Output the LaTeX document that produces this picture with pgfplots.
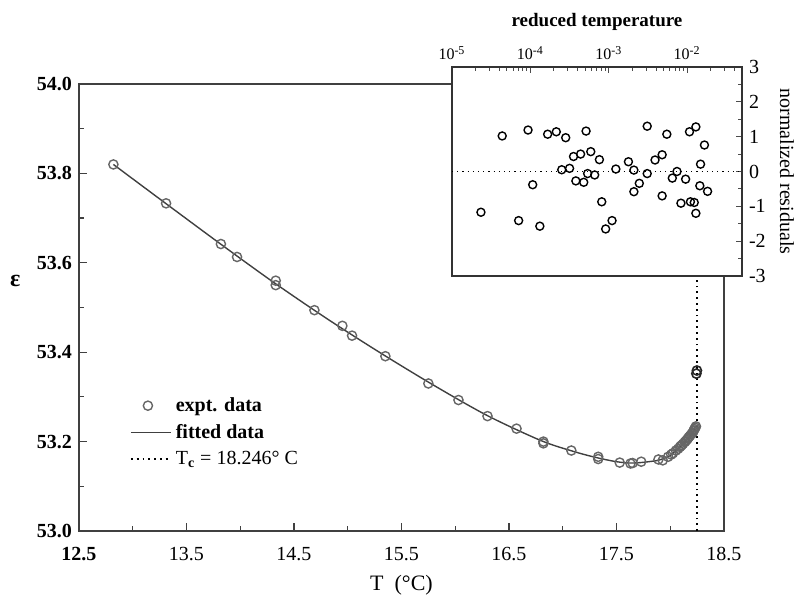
\documentclass[border=0pt]{standalone}
\usepackage{fontspec}
\setmainfont{Liberation Serif}
\usepackage{pgfplots}
\pgfplotsset{compat=1.18}
\pgfplotsset{circlegend/.style={legend image code/.code={\draw[##1] plot coordinates {(8.5pt,0pt)};}}}

% dielectric constant vs temperature, measured points
\pgfplotstableread{
T eps
12.82 53.820
13.31 53.733
13.82 53.642
13.97 53.613
14.33 53.560
14.33 53.550
14.69 53.494
14.95 53.459
15.04 53.437
15.35 53.391
15.75 53.330
16.03 53.293
16.30 53.257
16.57 53.229
16.82 53.200
16.82 53.196
17.08 53.180
17.33 53.166
17.33 53.161
17.53 53.153
17.63 53.151
17.65 53.152
17.73 53.155
17.89 53.160
17.93 53.158
17.98 53.166
18.009 53.171
18.025 53.174
18.053 53.180
18.074 53.184
18.090 53.188
18.097 53.190
18.107 53.192
18.119 53.195
18.135 53.199
18.143 53.201
18.154 53.204
18.164 53.207
18.173 53.210
18.184 53.213
18.198 53.217
18.208 53.220
18.215 53.223
18.219 53.225
18.225 53.228
18.233 53.231
18.239 53.234
}\exptdata

\pgfplotstableread{
T eps
18.243 53.352
18.248 53.359
}\outliers

\pgfplotstableread{
T eps
12.82 53.820
13.30 53.734
13.80 53.645
14.30 53.558
14.80 53.476
15.30 53.399
15.80 53.326
16.30 53.258
16.80 53.202
17.10 53.178
17.30 53.165
17.50 53.155
17.65 53.152
17.80 53.155
17.90 53.159
18.00 53.169
18.10 53.190
18.15 53.202
18.20 53.217
18.225 53.228
18.240 53.235
}\fitted

% normalized residuals vs reduced temperature
\pgfplotstableread{
t r
2.34e-5 -1.17
4.37e-5 1.02
7.08e-5 -1.41
9.33e-5 1.19
1.07e-4 -0.38
1.32e-4 -1.57
1.66e-4 1.07
2.14e-4 1.14
2.82e-4 0.97
2.51e-4 0.05
3.16e-4 0.09
3.55e-4 0.43
3.80e-4 -0.27
4.37e-4 0.50
4.79e-4 -0.31
5.13e-4 1.16
5.37e-4 -0.06
5.89e-4 0.57
6.61e-4 -0.10
7.59e-4 0.34
8.13e-4 -0.87
9.12e-4 -1.65
1.10e-3 -1.41
1.23e-3 0.07
1.78e-3 0.28
2.09e-3 0.04
2.09e-3 -0.58
2.45e-3 -0.34
3.09e-3 1.30
3.09e-3 -0.06
3.89e-3 0.33
4.79e-3 -0.70
4.79e-3 0.48
5.50e-3 1.07
6.46e-3 -0.19
7.41e-3 0.00
8.32e-3 -0.91
9.55e-3 -0.22
1.07e-2 1.14
1.10e-2 -0.87
1.23e-2 -0.89
1.29e-2 1.28
1.29e-2 -1.20
1.45e-2 -0.41
1.48e-2 0.21
1.66e-2 0.76
1.82e-2 -0.57
}\residuals

\begin{document}
\begin{tikzpicture}[x=1pt,y=1pt]
\useasboundingbox (-39.5,-33) rectangle (359,265.5);

\begin{axis}[
  at={(0pt,0pt)}, anchor=south west,
  width=322.5pt, height=223.5pt, scale only axis,
  xmin=12.5, xmax=18.5, ymin=53.0, ymax=54.0,
  xtick={13.5,14.5,15.5,16.5,17.5,18.5},
  minor xtick={13,14,15,16,17,18},
  extra x ticks={12.5},
  extra x tick style={major tick length=0pt, xticklabel style={font=\fontsize{10}{12}\selectfont\bfseries}},
  ytick={53,53.2,53.4,53.6,53.8,54},
  minor ytick={53.1,53.3,53.5,53.7,53.9},
  xtick pos=lower, ytick pos=left,
  tick align=inside,
  major tick length=4pt, minor tick length=2.5pt,
  axis line style={black!75, line width=0.8pt},
  every tick/.style={black!75, line width=0.6pt},
  /pgf/number format/assume math mode=true,
  /pgf/number format/fixed,
  /pgf/number format/fixed zerofill,
  /pgf/number format/precision=1,
  xticklabel style={font=\fontsize{10}{12}\selectfont, yshift=-4.5pt},
  yticklabel style={font=\fontsize{10}{12}\selectfont\bfseries},
  xlabel={T\ \ (°C)},
  xlabel style={at={(axis description cs:0.5,-0.121)}, anchor=center, font=\fontsize{11}{13}\selectfont},
  ylabel={\textbf{ε}},
  ylabel style={at={(axis description cs:-0.099,0.56)}, anchor=center, rotate=-90, font=\fontsize{12}{14}\selectfont},
  legend style={at={(axis cs:12.915,53.318)}, anchor=north west, draw=none, fill=none,
    font=\fontsize{10}{12}\selectfont, row sep=1pt},
  legend cell align=left,
  legend image code/.code={\draw[mark repeat=2,mark phase=2,#1] plot coordinates {(0pt,0pt)(10pt,0pt)(20pt,0pt)};},
]
\addplot[only marks, mark=o, mark size=2.3pt, mark options={black!60, line width=0.7pt}, circlegend] table {\exptdata};
\addlegendentry{\textbf{expt. data}}
\addplot[black!75, line width=0.7pt, smooth] table {\fitted};
\addlegendentry{\textbf{fitted data}}
\addplot[black, dotted, line width=0.9pt] coordinates {(18.246,53.0) (18.246,54.0)};
\addlegendentry{T\textsubscript{\bfseries c} = 18.246° C}
\addplot[only marks, mark=o, mark size=2.3pt, mark options={black!85, line width=0.8pt}, forget plot] table {\outliers};
\end{axis}

\begin{axis}[
  at={(186.5pt,127.5pt)}, anchor=south west,
  width=145pt, height=104.5pt, scale only axis,
  axis background/.style={fill=white},
  xmode=log, xmin=1e-5, xmax=5e-2, ymin=-3, ymax=3,
  xtick={1e-5,1e-4,1e-3,1e-2},
  xticklabels={10\textsuperscript{-5},10\textsuperscript{-4},10\textsuperscript{-3},10\textsuperscript{-2}},
  minor xtick={2e-5,3e-5,4e-5,5e-5,6e-5,7e-5,8e-5,9e-5,
    2e-4,3e-4,4e-4,5e-4,6e-4,7e-4,8e-4,9e-4,
    2e-3,3e-3,4e-3,5e-3,6e-3,7e-3,8e-3,9e-3,
    2e-2,3e-2,4e-2},
  ytick={-3,-2,-1,0,1,2,3},
  minor ytick={-2.5,-1.5,-0.5,0.5,1.5,2.5},
  xtick pos=upper, ytick pos=right,
  xticklabel pos=upper, yticklabel pos=right,
  tick align=inside,
  major tick length=3pt, minor tick length=2pt,
  axis line style={black!80, line width=0.7pt},
  every tick/.style={black!70, line width=0.5pt},
  /pgf/number format/assume math mode=true,
  xticklabel style={font=\fontsize{8}{10}\selectfont},
  yticklabel style={font=\fontsize{10}{12}\selectfont},
  xlabel={\textbf{reduced temperature}},
  xlabel style={at={(axis description cs:0.5,1.215)}, anchor=center, font=\fontsize{9.5}{11}\selectfont},
  ylabel={normalized residuals},
  ylabel style={at={(axis description cs:1.155,0.5)}, anchor=center, rotate=180, font=\fontsize{10}{12}\selectfont},
]
\addplot[black, dotted, line width=0.6pt] coordinates {(1e-5,0) (5e-2,0)};
\addplot[only marks, mark=o, mark size=2pt, mark options={black, line width=0.7pt}] table {\residuals};
\end{axis}
\end{tikzpicture}
\end{document}
